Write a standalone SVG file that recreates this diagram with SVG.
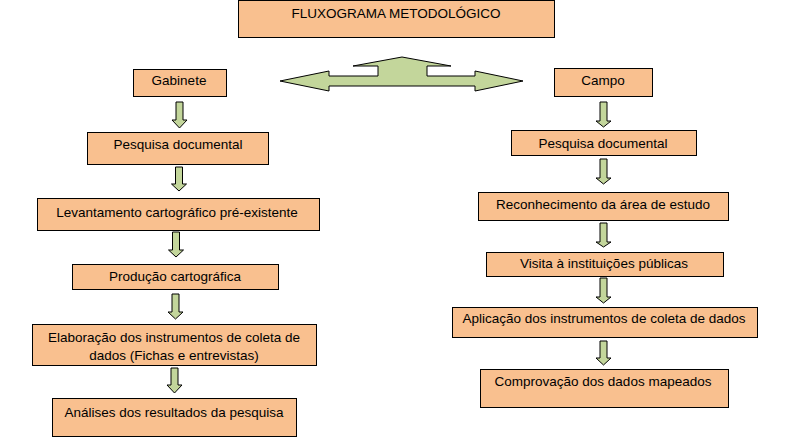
<svg xmlns="http://www.w3.org/2000/svg" width="790" height="437" viewBox="0 0 790 437">
<style>
.box{fill:#F9C08F;stroke:#000;stroke-width:1}
.arr{fill:#C3D69B;stroke:#000;stroke-width:1;stroke-linejoin:miter}
text{font-family:"Liberation Sans",Arial,sans-serif;font-size:13.5px;fill:#000;text-anchor:middle}
</style>
<rect width="790" height="437" fill="#fff"/>
<g id="title"><rect class="box" x="238.5" y="0.5" width="316" height="37"/><text x="396" y="18">FLUXOGRAMA METODOLÓGICO</text></g>
<g id="connectors">
<polygon class="arr" points="280,81 329,71 329,76 378,76 378,66 353,66 402,57 451,66 427,66 427,76 475,76 475,71 523,81 475,91 475,86 329,86 329,91"/>
<polygon class="arr" points="176,102 183,102 183,120 187,120 179.5,128 172,120 176,120"/>
<polygon class="arr" points="175.5,167 182.5,167 182.5,184 186.5,184 179,191 171.5,184 175.5,184"/>
<polygon class="arr" points="172.5,232 179.5,232 179.5,250 183.5,250 176,257 168.5,250 172.5,250"/>
<polygon class="arr" points="172,294 179,294 179,312 183,312 175.5,319 168,312 172,312"/>
<polygon class="arr" points="171,368 178,368 178,385 182,385 174.5,393 167,385 171,385"/>
<polygon class="arr" points="600,102 607,102 607,121 611,121 603.5,127 596,121 600,121"/>
<polygon class="arr" points="600,159 607,159 607,178 611,178 603.5,184 596,178 600,178"/>
<polygon class="arr" points="600,223 607,223 607,242 611,242 603.5,247 596,242 600,242"/>
<polygon class="arr" points="600,278 607,278 607,297 611,297 603.5,303 596,297 600,297"/>
<polygon class="arr" points="600,341 607,341 607,358 611,358 603.5,365 596,358 600,358"/>
</g>
<g id="gabinete"><rect class="box" x="133.5" y="69.5" width="93" height="27"/><text x="179" y="85">Gabinete</text></g>
<g id="g-pesquisa"><rect class="box" x="87.5" y="132.5" width="181" height="32"/><text x="178" y="149">Pesquisa documental</text></g>
<g id="g-levantamento"><rect class="box" x="37.5" y="198.5" width="282" height="32"/><text x="177" y="217">Levantamento cartográfico pré-existente</text></g>
<g id="g-producao"><rect class="box" x="72.5" y="264.5" width="206" height="25"/><text x="175" y="281">Produção cartográfica</text></g>
<g id="g-elaboracao"><rect class="box" x="32.5" y="324.5" width="284" height="41"/><text x="174" y="342">Elaboração dos instrumentos de coleta de</text><text x="174" y="360">dados (Fichas e entrevistas)</text></g>
<g id="g-analises"><rect class="box" x="52.5" y="398.5" width="244" height="38"/><text x="174" y="417">Análises dos resultados da pesquisa</text></g>
<g id="campo"><rect class="box" x="554.5" y="68.5" width="98" height="28"/><text x="603" y="85">Campo</text></g>
<g id="c-pesquisa"><rect class="box" x="511.5" y="130.5" width="185" height="25"/><text x="603" y="148">Pesquisa documental</text></g>
<g id="c-reconhecimento"><rect class="box" x="478.5" y="192.5" width="250" height="28"/><text x="603" y="209">Reconhecimento da área de estudo</text></g>
<g id="c-visita"><rect class="box" x="486.5" y="252.5" width="237" height="24"/><text x="604" y="268">Visita à instituições públicas</text></g>
<g id="c-aplicacao"><rect class="box" x="452.5" y="307.5" width="305" height="30"/><text x="604" y="323">Aplicação dos instrumentos de coleta de dados</text></g>
<g id="c-comprovacao"><rect class="box" x="480.5" y="369.5" width="248" height="38"/><text x="603" y="386">Comprovação dos dados mapeados</text></g>
</svg>
